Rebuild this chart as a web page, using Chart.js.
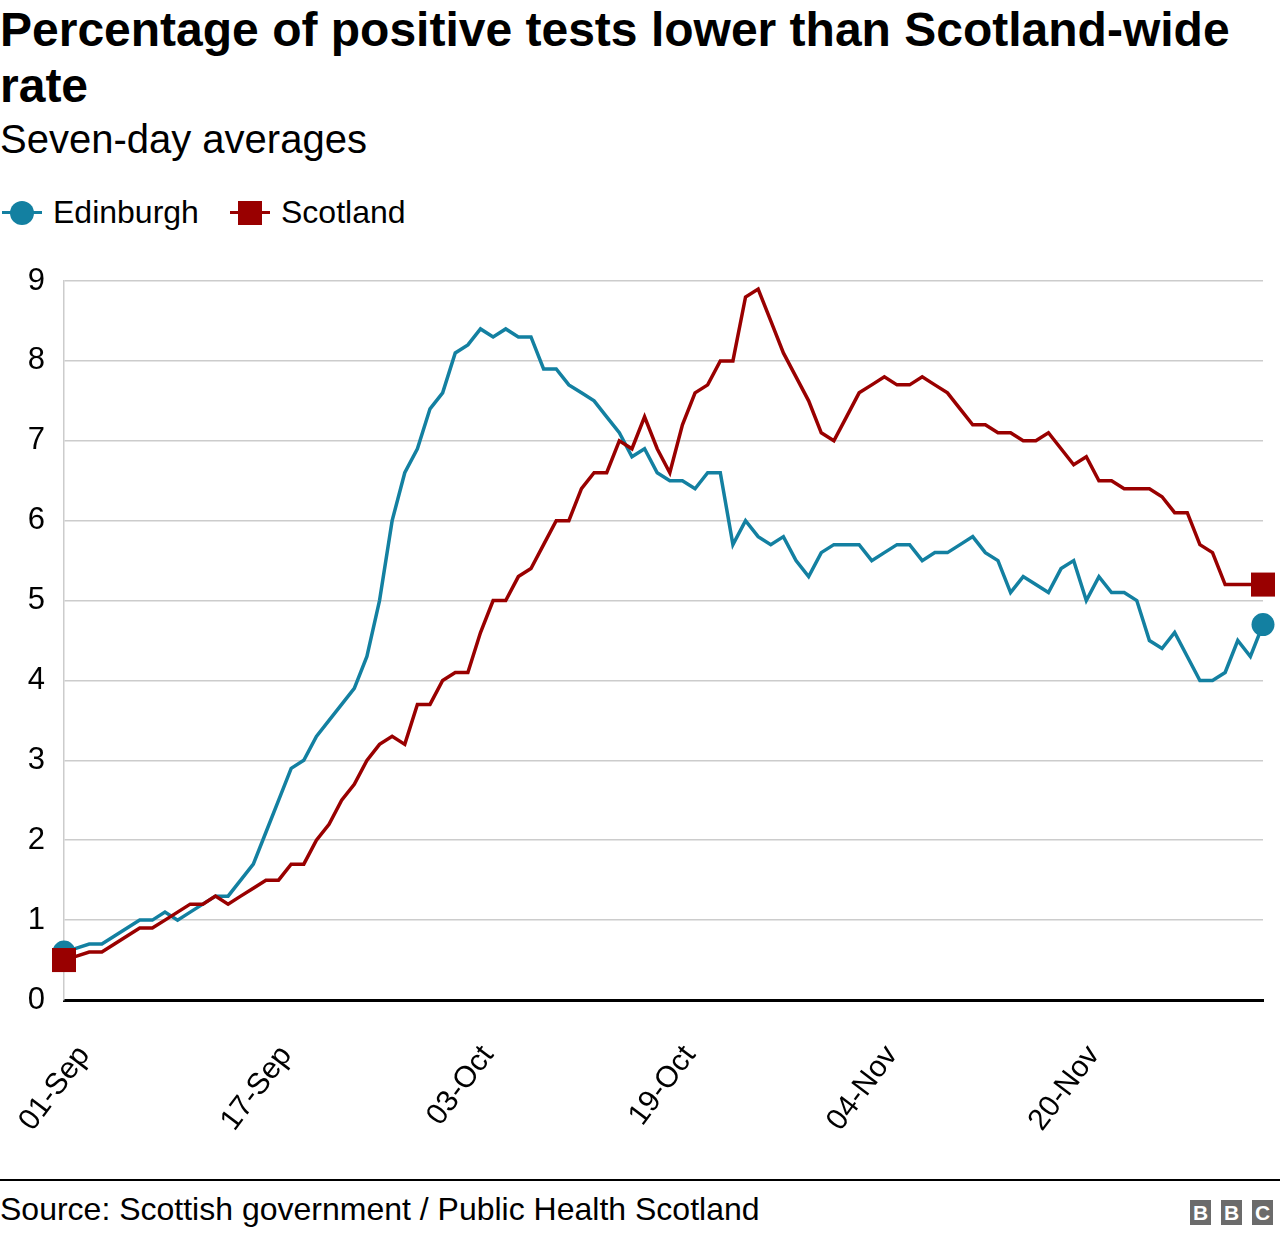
<!DOCTYPE html>
<html><head><meta charset="utf-8">
<script src="https://cdn.jsdelivr.net/npm/chart.js@4.4.1/dist/chart.umd.min.js"></script>
<style>
html,body{margin:0;padding:0;background:#fff;}
body{width:1280px;height:1236px;position:relative;overflow:hidden;font-family:"Liberation Sans",Arial,Helvetica,sans-serif;color:#000;}
#title{position:absolute;left:0;top:2px;width:1270px;font-size:48px;font-weight:bold;line-height:56px;}
#subtitle{position:absolute;left:0;top:117px;font-size:40px;line-height:44px;white-space:nowrap;}
#legend{position:absolute;left:0;top:192px;width:600px;height:40px;font-size:32px;line-height:40px;}
#legend .txt{position:absolute;top:0;white-space:nowrap;}
#legend .ln{position:absolute;top:19px;width:40px;height:3px;}
#legend .mk{position:absolute;}
#chartbox{position:absolute;left:0;top:250px;width:1280px;height:910px;}
#rule{position:absolute;left:0;top:1179px;width:1280px;height:2px;background:#000;}
#source{position:absolute;left:0;top:1189px;font-size:32px;line-height:40px;white-space:nowrap;}
#bbc{position:absolute;left:1190px;top:1200px;display:flex;gap:10px;}
#bbc span{display:block;width:21px;height:25px;background:#6b6b6b;color:#fff;font-weight:bold;font-size:21px;line-height:25px;text-align:center;}
</style>
</head>
<body>
<div id="title">Percentage of positive tests lower than Scotland-wide rate</div>
<div id="subtitle">Seven-day averages</div>
<div id="legend">
  <div class="ln" style="left:2px;background:#1380A1"></div>
  <div class="mk" style="left:10px;top:9px;width:24px;height:24px;border-radius:50%;background:#1380A1"></div>
  <div class="txt" style="left:53px">Edinburgh</div>
  <div class="ln" style="left:230px;background:#990000"></div>
  <div class="mk" style="left:238px;top:9px;width:24px;height:24px;background:#990000"></div>
  <div class="txt" style="left:281px">Scotland</div>
</div>
<div id="chartbox"><canvas id="c" width="1280" height="910"></canvas></div>
<div id="rule"></div>
<div id="source">Source: Scottish government / Public Health Scotland</div>
<div id="bbc"><span>B</span><span>B</span><span>C</span></div>
<script>
const dates = [
'01-Sep','02-Sep','03-Sep','04-Sep','05-Sep','06-Sep','07-Sep','08-Sep','09-Sep','10-Sep',
'11-Sep','12-Sep','13-Sep','14-Sep','15-Sep','16-Sep','17-Sep','18-Sep','19-Sep','20-Sep',
'21-Sep','22-Sep','23-Sep','24-Sep','25-Sep','26-Sep','27-Sep','28-Sep','29-Sep','30-Sep',
'01-Oct','02-Oct','03-Oct','04-Oct','05-Oct','06-Oct','07-Oct','08-Oct','09-Oct','10-Oct',
'11-Oct','12-Oct','13-Oct','14-Oct','15-Oct','16-Oct','17-Oct','18-Oct','19-Oct','20-Oct',
'21-Oct','22-Oct','23-Oct','24-Oct','25-Oct','26-Oct','27-Oct','28-Oct','29-Oct','30-Oct','31-Oct',
'01-Nov','02-Nov','03-Nov','04-Nov','05-Nov','06-Nov','07-Nov','08-Nov','09-Nov','10-Nov',
'11-Nov','12-Nov','13-Nov','14-Nov','15-Nov','16-Nov','17-Nov','18-Nov','19-Nov','20-Nov',
'21-Nov','22-Nov','23-Nov','24-Nov','25-Nov','26-Nov','27-Nov','28-Nov','29-Nov','30-Nov',
'01-Dec','02-Dec','03-Dec','04-Dec','05-Dec'
];
const tickLabels = ['01-Sep','17-Sep','03-Oct','19-Oct','04-Nov','20-Nov'];
const edinburgh = [
0.6,0.65,0.7,0.7,0.8,0.9,1.0,1.0,1.1,1.0,
1.1,1.2,1.3,1.3,1.5,1.7,2.1,2.5,2.9,3.0,
3.3,3.5,3.7,3.9,4.3,5.0,6.0,6.6,6.9,7.4,
7.6,8.1,8.2,8.4,8.3,8.4,8.3,8.3,7.9,7.9,
7.7,7.6,7.5,7.3,7.1,6.8,6.9,6.6,6.5,6.5,
6.4,6.6,6.6,5.7,6.0,5.8,5.7,5.8,5.5,5.3,5.6,
5.7,5.7,5.7,5.5,5.6,5.7,5.7,5.5,5.6,5.6,
5.7,5.8,5.6,5.5,5.1,5.3,5.2,5.1,5.4,5.5,
5.0,5.3,5.1,5.1,5.0,4.5,4.4,4.6,4.3,4.0,
4.0,4.1,4.5,4.3,4.7
];
const scotland = [
0.5,0.55,0.6,0.6,0.7,0.8,0.9,0.9,1.0,1.1,
1.2,1.2,1.3,1.2,1.3,1.4,1.5,1.5,1.7,1.7,
2.0,2.2,2.5,2.7,3.0,3.2,3.3,3.2,3.7,3.7,
4.0,4.1,4.1,4.6,5.0,5.0,5.3,5.4,5.7,6.0,
6.0,6.4,6.6,6.6,7.0,6.9,7.3,6.9,6.6,7.2,
7.6,7.7,8.0,8.0,8.8,8.9,8.5,8.1,7.8,7.5,7.1,
7.0,7.3,7.6,7.7,7.8,7.7,7.7,7.8,7.7,7.6,
7.4,7.2,7.2,7.1,7.1,7.0,7.0,7.1,6.9,6.7,
6.8,6.5,6.5,6.4,6.4,6.4,6.3,6.1,6.1,5.7,
5.6,5.2,5.2,5.2,5.2
];
const yTicks = [0,1,2,3,4,5,6,7,8,9];

const last = dates.length - 1;
const endsOnly = r => ctx => (ctx.dataIndex === 0 || ctx.dataIndex === last) ? r : 0;
const noPad = s => { s.paddingLeft = 0; s.paddingRight = 0; s.paddingTop = 0; s.paddingBottom = 0; };

new Chart(document.getElementById('c'), {
  type: 'line',
  data: {
    labels: dates,
    datasets: [
      {
        label: 'Scotland', data: scotland, order: 0,
        borderColor: '#990000', backgroundColor: '#990000', borderWidth: 3.5,
        pointStyle: 'rect', pointRadius: endsOnly(17), pointHoverRadius: 0,
        pointBorderWidth: 0, pointBackgroundColor: '#990000', tension: 0, clip: false
      },
      {
        label: 'Edinburgh', data: edinburgh, order: 1,
        borderColor: '#1380A1', backgroundColor: '#1380A1', borderWidth: 3.5,
        pointStyle: 'circle', pointRadius: endsOnly(11.5), pointHoverRadius: 0,
        pointBorderWidth: 0, pointBackgroundColor: '#1380A1', tension: 0, clip: false
      }
    ]
  },
  options: {
    responsive: false, maintainAspectRatio: false, animation: false, devicePixelRatio: 1,
    events: [],
    layout: { padding: { top: 31, right: 14, left: 0, bottom: 0 } },
    plugins: { legend: { display: false }, tooltip: { enabled: false } },
    scales: {
      x: {
        type: 'category', offset: false,
        grid: { display: false, drawTicks: false },
        border: { display: true, color: '#000', width: 3 },
        ticks: {
          autoSkip: false, minRotation: 53, maxRotation: 53, padding: 39, labelOffset: 20,
          color: '#000', font: { family: 'Liberation Sans', size: 30 },
          callback: (v, i) => tickLabels.includes(dates[i]) ? dates[i] : ''
        },
        afterFit: s => { s.height = 160; noPad(s); }
      },
      y: {
        min: 0, max: 9,
        afterBuildTicks: s => { s.ticks = yTicks.map(v => ({ value: v })); },
        grid: { drawTicks: false, lineWidth: 1.5,
          color: c => (c.tick && c.tick.value === 0) ? 'rgba(0,0,0,0)' : '#cccccc' },
        border: { display: true, color: '#cccccc', width: 1.5 },
        ticks: { padding: 19, color: '#000', font: { family: 'Liberation Sans', size: 31 } },
        afterFit: s => { s.width = 64; noPad(s); }
      }
    }
  }
});
</script>
</body></html>
